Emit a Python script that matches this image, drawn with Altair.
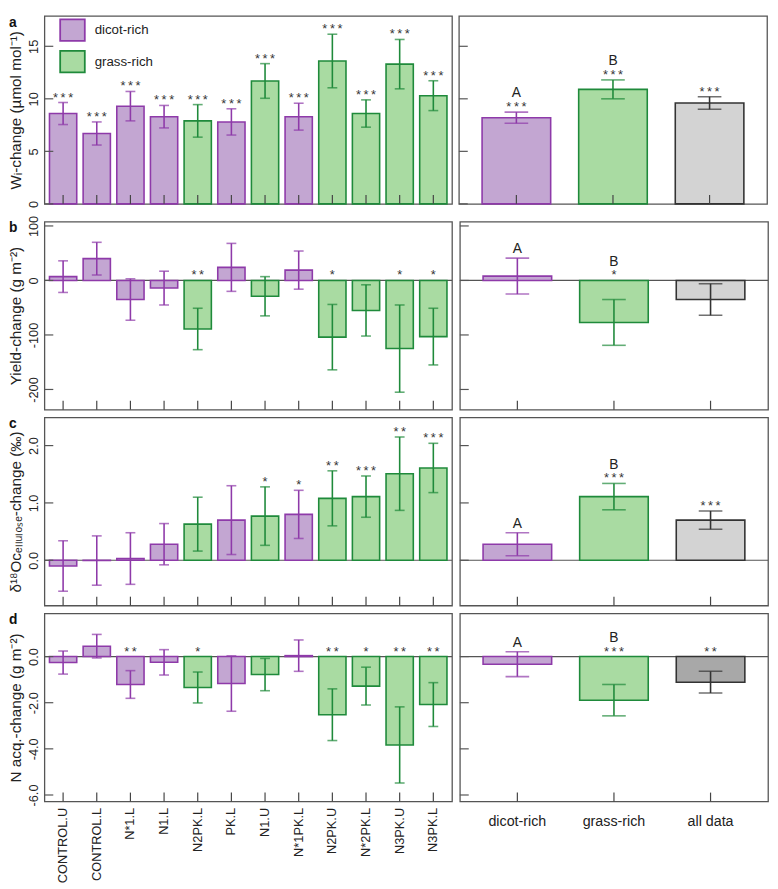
import altair as alt
import pandas as pd

# ---------------- data ----------------
treatments = ["CONTROL.U", "CONTROL.L", "N*1.L", "N1.L", "N2PK.L", "PK.L",
              "N1.U", "N*1PK.L", "N2PK.U", "N*2PK.L", "N3PK.U", "N3PK.L"]
community = ["dicot-rich", "dicot-rich", "dicot-rich", "dicot-rich", "grass-rich", "dicot-rich",
             "grass-rich", "dicot-rich", "grass-rich", "grass-rich", "grass-rich", "grass-rich"]

wi_mean = [8.6, 6.7, 9.3, 8.3, 7.9, 7.8, 11.7, 8.3, 13.6, 8.6, 13.3, 10.3]
wi_se = [1.05, 1.1, 1.4, 1.07, 1.55, 1.25, 1.65, 1.28, 2.55, 1.3, 2.35, 1.42]
wi_sig = ["***"] * 12

yield_mean = [7, 40, -35, -14, -89, 24, -29, 19, -104, -55, -125, -103]
yield_se = [29, 30, 38, 31, 38, 44, 36, 35, 60, 47, 80, 52]
yield_sig = ["", "", "", "", "**", "", "", "", "*", "", "*", "*"]

d18o_mean = [-0.1, -0.005, 0.03, 0.28, 0.63, 0.70, 0.77, 0.80, 1.08, 1.11, 1.51, 1.61]
d18o_se = [0.44, 0.43, 0.45, 0.36, 0.47, 0.60, 0.51, 0.42, 0.48, 0.36, 0.64, 0.43]
d18o_sig = ["", "", "", "", "", "", "*", "*", "**", "***", "**", "***"]

nacq_mean = [-0.26, 0.45, -1.21, -0.25, -1.34, -1.17, -0.78, 0.04, -2.52, -1.28, -3.83, -2.08]
nacq_se = [0.50, 0.51, 0.60, 0.55, 0.67, 1.20, 0.70, 0.68, 1.12, 0.82, 1.65, 0.95]
nacq_sig = ["", "", "**", "", "*", "", "", "", "**", "*", "**", "**"]

groups = ["dicot-rich", "grass-rich", "all data"]
group_keys = ["dicot-rich", "grass-rich", "all data"]
group_keys_d = ["dicot-rich", "grass-rich", "all data (N)"]
group_letters = ["A", "B", ""]

wi_g_mean = [8.2, 10.9, 9.6]
wi_g_se = [0.53, 0.9, 0.6]
wi_g_sig = ["***", "***", "***"]

yield_g_mean = [8, -77, -35]
yield_g_se = [33, 42, 29]
yield_g_sig = ["", "*", ""]

d18o_g_mean = [0.28, 1.11, 0.70]
d18o_g_se = [0.20, 0.23, 0.16]
d18o_g_sig = ["", "***", "***"]

nacq_g_mean = [-0.33, -1.89, -1.11]
nacq_g_se = [0.54, 0.68, 0.47]
nacq_g_sig = ["", "***", "**"]

ticks_a = [0, 5, 10, 15]
ticks_b = [-200, -100, 0, 100]
ticks_c = [0.0, 1.0, 2.0]
ticks_d = [-6.0, -4.0, -2.0, 0.0]

# ---------------- style ----------------
FONT = "Liberation Sans"
fill_domain = ["dicot-rich", "grass-rich", "all data", "all data (N)"]
fill_range = ["#C3A6D2", "#A9DBA2", "#D3D3D3", "#A8A8A8"]
stroke_range = ["#8E3AA9", "#1F8A3B", "#333333", "#333333"]
H = 191
W_LEFT = 414
W_RIGHT = 313

leg = alt.Legend(values=["dicot-rich", "grass-rich"], title=None, orient="none",
                 legendX=15, legendY=1,
                 symbolType="M-1,-0.88L1,-0.88L1,0.88L-1,0.88Z", symbolSize=625,
                 symbolStrokeWidth=1.8, labelFontSize=13.5, labelFont=FONT,
                 labelOffset=9, rowPadding=1, padding=0, labelColor="#222")


def make_df(names, keys, mean, se, sig, letters=None):
    df = pd.DataFrame({"name": names, "grp": keys, "mean": mean, "se": se, "sig": sig})
    df["lo"] = df["mean"] - df["se"]
    df["hi"] = df["mean"] + df["se"]
    df["anchor"] = df["hi"].clip(lower=0)
    df["sigtxt"] = df["sig"].apply(lambda s: "\u2009".join(list(s)))
    df["letter"] = letters if letters is not None else [""] * len(names)
    return df


def panel(df, names, domain, ticks, fmt, left, title=None, tag=None, show_x=False,
          zero_line=True):
    width = W_LEFT if left else W_RIGHT
    cap = 10 if left else 24
    if left:
        sc = alt.Scale(domain=names, paddingInner=0.19, paddingOuter=0.15)
    else:
        sc = alt.Scale(domain=names, paddingInner=0.29, paddingOuter=0.24)
    if show_x:
        if left:
            xaxis = alt.Axis(title=None, labelAngle=270, domain=False, ticks=False, tickSize=0,
                             labelPadding=6, labelFontSize=13, labelFont=FONT, labelColor="#222")
        else:
            xaxis = alt.Axis(title=None, labelAngle=0, domain=False, ticks=False, tickSize=0,
                             labelPadding=13, labelFontSize=14.5, labelFont=FONT, labelColor="#222")
    else:
        xaxis = None
    X = lambda: alt.X("name:N", sort=names, scale=sc, axis=xaxis)
    ysc = alt.Scale(domain=domain, nice=False, zero=False)
    if left:
        yaxis = alt.Axis(values=ticks, format=fmt, title=title, labelAngle=270,
                         domain=False, ticks=False, tickSize=0, grid=False,
                         labelPadding=4, labelFontSize=13, labelFont=FONT, labelColor="#222",
                         titleFontSize=15.5, titleFont=FONT, titleFontWeight="normal",
                         titlePadding=4, titleColor="#222",
                         labelExpr="replace(datum.label, '\u2212', '-')")
    else:
        yaxis = None
    Y = lambda f: alt.Y(f, scale=ysc, axis=yaxis)
    fill = alt.Fill("grp:N", scale=alt.Scale(domain=fill_domain, range=fill_range), legend=leg)
    stroke = alt.Stroke("grp:N", scale=alt.Scale(domain=fill_domain, range=stroke_range), legend=leg)
    capcol = alt.Color("grp:N", scale=alt.Scale(domain=fill_domain, range=stroke_range), legend=None)

    base = alt.Chart(df)
    layers = []
    if zero_line:
        layers.append(alt.Chart(pd.DataFrame({"v": [0]})).mark_rule(color="#555", strokeWidth=1.2)
                      .encode(y=Y("v:Q")))
    layers.append(base.mark_bar(strokeWidth=1.6).encode(
        x=X(), y=Y("mean:Q"), y2=alt.datum(0), fill=fill, stroke=stroke))
    layers.append(base.mark_rule(strokeWidth=1.6).encode(
        x=X(), y=Y("lo:Q"), y2="hi:Q", stroke=stroke))
    layers.append(base.mark_tick(thickness=1.6, size=cap, orient="horizontal").encode(
        x=X(), y=Y("lo:Q"), color=capcol))
    layers.append(base.mark_tick(thickness=1.6, size=cap, orient="horizontal").encode(
        x=X(), y=Y("hi:Q"), color=capcol))
    layers.append(base.transform_filter("datum.sig != ''").mark_text(
        font=FONT, fontSize=13, color="#333", baseline="alphabetic", dy=-1).encode(
        x=X(), y=Y("anchor:Q"), text="sigtxt:N"))
    if not left:
        layers.append(base.transform_filter("datum.letter != '' && datum.sig != ''").mark_text(
            font=FONT, fontSize=14, color="#222", baseline="middle", dy=-19).encode(
            x=X(), y=Y("anchor:Q"), text="letter:N"))
        layers.append(base.transform_filter("datum.letter != '' && datum.sig == ''").mark_text(
            font=FONT, fontSize=14, color="#222", baseline="middle", dy=-9).encode(
            x=X(), y=Y("anchor:Q"), text="letter:N"))
    # inward tick marks
    layers.append(base.mark_rule(color="#444", strokeWidth=1.2).encode(
        x=X(), y=alt.value(H), y2=alt.value(H - 9)))
    layers.append(alt.Chart(pd.DataFrame({"v": ticks})).mark_rule(color="#555", strokeWidth=1.2)
                  .encode(y=Y("v:Q"), x=alt.value(0), x2=alt.value(9)))
    if tag:
        layers.append(alt.Chart(pd.DataFrame({"t": [tag]})).mark_text(
            font=FONT, fontSize=14, fontWeight="bold", align="left", baseline="middle",
            color="#111").encode(x=alt.value(-36), y=alt.value(7), text="t:N"))
    return alt.layer(*layers).properties(width=width, height=H)


rows = []
specs = [
    (wi_mean, wi_se, wi_sig, wi_g_mean, wi_g_se, wi_g_sig, [0, 17.9], ticks_a, "d",
     "W\u1d62-change (\u00b5mol mol\u207b\u00b9)", "a", False, group_keys),
    (yield_mean, yield_se, yield_sig, yield_g_mean, yield_g_se, yield_g_sig, [-237, 108], ticks_b, "d",
     "Yield-change (g m\u207b\u00b2)", "b", True, group_keys),
    (d18o_mean, d18o_se, d18o_sig, d18o_g_mean, d18o_g_se, d18o_g_sig, [-0.79, 2.49], ticks_c, ".1f",
     "\u03b4\u00b9\u2078O\u1d04\u2091\u2097\u2097\u1d64\u2097\u2092\u209b\u2091-change (\u2030)", "c", True, group_keys),
    (nacq_mean, nacq_se, nacq_sig, nacq_g_mean, nacq_g_se, nacq_g_sig, [-6.28, 1.87], ticks_d, ".1f",
     "N acq.-change (g m\u207b\u00b2)", "d", True, group_keys_d),
]
for i, (m, s, sg, gm, gs, gsg, dom, tk, fmt, ttl, tag, zl, gkeys) in enumerate(specs):
    last = i == len(specs) - 1
    dl = make_df(treatments, community, m, s, sg)
    dr = make_df(groups, gkeys, gm, gs, gsg, group_letters)
    lp = panel(dl, treatments, dom, tk, fmt, True, title=ttl, tag=tag, show_x=last, zero_line=zl)
    rp = panel(dr, groups, dom, tk, fmt, False, show_x=last, zero_line=zl)
    rows.append(alt.hconcat(lp, rp, spacing=4))

chart = alt.vconcat(*rows, spacing=5).properties(
    padding=0, background="white").configure_view(
    stroke="#555", strokeWidth=1.3).configure_axis(labelFont=FONT, titleFont=FONT)

chart.save("out.html", embed_options={"renderer": "svg", "actions": False})
